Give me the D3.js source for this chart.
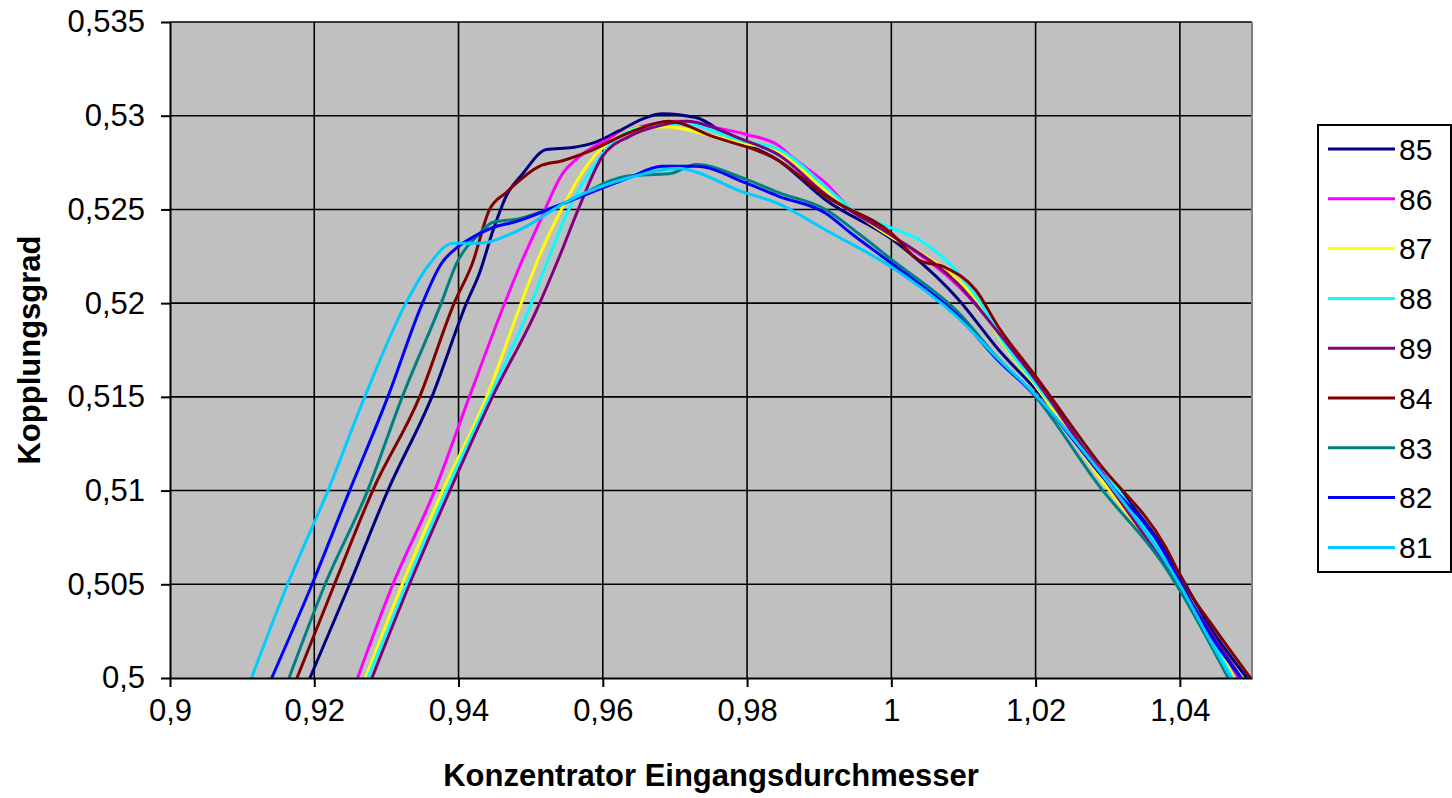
<!DOCTYPE html>
<html>
<head>
<meta charset="utf-8">
<script src="https://cdn.jsdelivr.net/npm/d3@7"></script>
<style>
  body { margin: 0; background: #fff; }
  text { font-family: "Liberation Sans", Arial, sans-serif; fill: #000; }
</style>
</head>
<body>
<svg width="1452" height="798"></svg>
<script>
// series labels, in legend order, and their colours
var seriesNames = ["85", "86", "87", "88", "89", "84", "83", "82", "81"];
var seriesColors = ["#000080", "#ff00ff", "#ffff00", "#00ffff", "#800080", "#800000", "#008080", "#0000ff", "#00ccff"];

var xTicks = [0.9, 0.92, 0.94, 0.96, 0.98, 1, 1.02, 1.04];
var yTicks = [0.5, 0.505, 0.51, 0.515, 0.52, 0.525, 0.53, 0.535];

// [Eingangsdurchmesser, Kopplungsgrad]
var s85 = [[0.9194,0.5],[0.9249,0.505],[0.9302,0.51],[0.9363,0.515],[0.9411,0.52],[0.9429,0.5216],[0.9448,0.5239],[0.9466,0.5257],[0.9489,0.5269],[0.9522,0.5282],[0.9558,0.5283],[0.9591,0.5286],[0.9623,0.5292],[0.966,0.5299],[0.9682,0.5301],[0.9729,0.5299],[0.9775,0.5289],[0.9844,0.5276],[0.9909,0.5255],[1.0001,0.5234],[1.0093,0.5202],[1.0149,0.5175],[1.02,0.5154],[1.0287,0.5114],[1.038,0.5068],[1.0449,0.5023],[1.0493,0.5]];
var s86 = [[0.926,0.5],[0.9309,0.505],[0.9367,0.51],[0.9415,0.515],[0.9461,0.5197],[0.9484,0.5219],[0.9512,0.5243],[0.9544,0.5269],[0.9567,0.5278],[0.9605,0.5287],[0.9651,0.5294],[0.9706,0.5297],[0.9752,0.5294],[0.9799,0.529],[0.9844,0.5284],[0.9862,0.5278],[0.9909,0.5264],[0.9941,0.5251],[1.0001,0.5236],[1.0093,0.5209],[1.0131,0.5193],[1.02,0.5156],[1.0287,0.5112],[1.0398,0.5052],[1.0449,0.5018],[1.0481,0.5]];
var s87 = [[0.9271,0.5],[0.9322,0.505],[0.9378,0.51],[0.9439,0.515],[0.9484,0.5197],[0.9512,0.5225],[0.9544,0.5251],[0.9581,0.5275],[0.9613,0.5287],[0.966,0.5294],[0.9692,0.5294],[0.9743,0.529],[0.9799,0.5285],[0.9844,0.5281],[0.9909,0.526],[1.0001,0.5235],[1.0048,0.5225],[1.0093,0.5212],[1.0131,0.5195],[1.0149,0.5182],[1.02,0.5156],[1.0287,0.5108],[1.0398,0.5051],[1.0476,0.5]];
var s88 = [[0.9274,0.5],[0.9328,0.505],[0.9383,0.51],[0.9443,0.515],[0.9498,0.5197],[0.9522,0.5221],[0.9554,0.5251],[0.9591,0.5275],[0.9623,0.5289],[0.966,0.5294],[0.9716,0.5296],[0.9752,0.5292],[0.9789,0.5287],[0.9844,0.5282],[0.9909,0.5262],[0.9945,0.525],[1.0001,0.524],[1.0038,0.5234],[1.0093,0.5216],[1.0135,0.5193],[1.0149,0.5183],[1.02,0.5157],[1.0287,0.5115],[1.0398,0.5052],[1.0473,0.5]];
var s89 = [[0.928,0.5],[0.9332,0.505],[0.9388,0.51],[0.9447,0.515],[0.9509,0.5197],[0.954,0.5225],[0.9567,0.5251],[0.9599,0.5278],[0.9637,0.5289],[0.9682,0.5295],[0.9716,0.5297],[0.9752,0.5294],[0.9789,0.5288],[0.9844,0.5279],[0.9909,0.5258],[1.0001,0.5236],[1.0093,0.521],[1.0149,0.5184],[1.02,0.5159],[1.0287,0.5111],[1.0398,0.505],[1.0485,0.5]];
var s84 = [[0.9176,0.5],[0.9228,0.505],[0.9281,0.51],[0.9346,0.515],[0.9394,0.52],[0.9419,0.5221],[0.9443,0.525],[0.9466,0.5259],[0.9512,0.5273],[0.9544,0.5276],[0.9581,0.5281],[0.9637,0.5291],[0.9692,0.5297],[0.9752,0.5289],[0.9844,0.5276],[0.9909,0.5257],[1.0001,0.5237],[1.0038,0.5223],[1.0075,0.5219],[1.0117,0.5207],[1.0149,0.5187],[1.02,0.5161],[1.0287,0.5115],[1.038,0.507],[1.0408,0.5049],[1.0449,0.5026],[1.0498,0.5]];
var s83 = [[0.9165,0.5],[0.9215,0.505],[0.9274,0.51],[0.9322,0.515],[0.9376,0.52],[0.9397,0.5221],[0.9429,0.5237],[0.9447,0.5243],[0.9484,0.5245],[0.9544,0.5253],[0.9637,0.5268],[0.9692,0.5269],[0.9729,0.5274],[0.9799,0.5266],[0.9844,0.5259],[0.9909,0.525],[0.9955,0.5237],[1.0001,0.5223],[1.0093,0.5195],[1.0149,0.517],[1.02,0.515],[1.0287,0.5103],[1.038,0.5059],[1.0398,0.5048],[1.0467,0.5]];
var s82 = [[0.9141,0.5],[0.9197,0.505],[0.9249,0.51],[0.9302,0.515],[0.935,0.52],[0.9376,0.5221],[0.9399,0.523],[0.9419,0.5235],[0.9453,0.5241],[0.9475,0.5243],[0.9544,0.5253],[0.9637,0.5267],[0.9682,0.5273],[0.9729,0.5273],[0.9799,0.5264],[0.9844,0.5257],[0.9909,0.5248],[0.9945,0.5237],[1.0001,0.5221],[1.0093,0.5193],[1.0149,0.5169],[1.02,0.5151],[1.0287,0.511],[1.038,0.5066],[1.0398,0.5053],[1.0449,0.5019],[1.0485,0.5]];
var s81 = [[0.9113,0.5],[0.9163,0.505],[0.9219,0.51],[0.927,0.515],[0.9327,0.52],[0.936,0.5221],[0.9392,0.5232],[0.9429,0.5232],[0.9484,0.5239],[0.9554,0.5255],[0.9637,0.5267],[0.9706,0.5272],[0.9729,0.527],[0.9789,0.526],[0.9844,0.5253],[0.9909,0.5239],[1.0001,0.5219],[1.0093,0.5192],[1.0149,0.517],[1.02,0.5151],[1.0287,0.5111],[1.0398,0.5051],[1.0449,0.5015],[1.0471,0.5]];

var seriesData = [s85, s86, s87, s88, s89, s84, s83, s82, s81];

var svg = d3.select("svg");
var plotL = 170, plotT = 22, plotR = 1252, plotB = 678;

var x = d3.scaleLinear().domain([0.9, 1.05]).range([plotL, plotR]);
var y = d3.scaleLinear().domain([0.5, 0.535]).range([plotB, plotT]);
var fmt = function (v) { return String(+v.toFixed(3)).replace(".", ","); };

// plot background
svg.append("rect")
  .attr("x", plotL).attr("y", plotT)
  .attr("width", plotR - plotL).attr("height", plotB - plotT)
  .attr("fill", "#c0c0c0");

// grid
svg.append("g").selectAll("line")
  .data(yTicks.slice(1))
  .enter().append("line")
    .attr("x1", plotL).attr("x2", plotR)
    .attr("y1", function (d) { return y(d); }).attr("y2", function (d) { return y(d); })
    .attr("stroke", "#000").attr("stroke-width", 1.6);
svg.append("g").selectAll("line")
  .data(xTicks.slice(1))
  .enter().append("line")
    .attr("y1", plotT).attr("y2", plotB)
    .attr("x1", function (d) { return x(d); }).attr("x2", function (d) { return x(d); })
    .attr("stroke", "#000").attr("stroke-width", 1.6);

// right edge of the plot area
svg.append("line")
  .attr("x1", plotR).attr("x2", plotR).attr("y1", plotT).attr("y2", plotB)
  .attr("stroke", "#808080").attr("stroke-width", 2);

// series
var line = d3.line()
  .x(function (d) { return x(d[0]); })
  .y(function (d) { return y(d[1]); })
  .curve(d3.curveMonotoneX);

svg.append("g").selectAll("path")
  .data(seriesData)
  .enter().append("path")
    .attr("d", line)
    .attr("fill", "none")
    .attr("stroke", function (d, i) { return seriesColors[i]; })
    .attr("stroke-width", 3)
    .attr("stroke-linejoin", "round");

// axes
var xAxis = svg.append("g")
  .attr("transform", "translate(0," + plotB + ")")
  .call(d3.axisBottom(x).tickValues(xTicks).tickFormat(fmt).tickSize(9).tickPadding(12).tickSizeOuter(0));
var yAxis = svg.append("g")
  .attr("transform", "translate(" + plotL + ",0)")
  .call(d3.axisLeft(y).tickValues(yTicks).tickFormat(fmt).tickSize(9).tickPadding(16).tickSizeOuter(0));

[xAxis, yAxis].forEach(function (ax) {
  ax.select(".domain").attr("stroke", "#000").attr("stroke-width", 2);
  ax.selectAll(".tick line").attr("stroke", "#000").attr("stroke-width", 2);
  ax.selectAll(".tick text")
    .attr("font-family", "'Liberation Sans', Arial, sans-serif")
    .attr("font-size", 31).attr("fill", "#000");
});

// axis titles
svg.append("text")
  .attr("x", (plotL + plotR) / 2).attr("y", 786)
  .attr("text-anchor", "middle")
  .attr("font-size", 31).attr("font-weight", "bold")
  .text("Konzentrator Eingangsdurchmesser");
svg.append("text")
  .attr("transform", "translate(40," + ((plotT + plotB) / 2) + ") rotate(-90)")
  .attr("text-anchor", "middle")
  .attr("font-size", 31).attr("font-weight", "bold")
  .text("Kopplungsgrad");

// legend
var legend = svg.append("g");
legend.append("rect")
  .attr("x", 1318).attr("y", 125)
  .attr("width", 133).attr("height", 447)
  .attr("fill", "#fff").attr("stroke", "#000").attr("stroke-width", 2);

var item = legend.selectAll("g.item")
  .data(seriesNames)
  .enter().append("g")
    .attr("class", "item")
    .attr("transform", function (d, i) { return "translate(0," + (149 + i * 49.8) + ")"; });
item.append("line")
  .attr("x1", 1328).attr("x2", 1395)
  .attr("stroke", function (d, i) { return seriesColors[i]; })
  .attr("stroke-width", 3);
item.append("text")
  .attr("x", 1399).attr("dy", "0.36em")
  .attr("font-size", 30)
  .text(function (d) { return d; });
</script>
</body>
</html>
